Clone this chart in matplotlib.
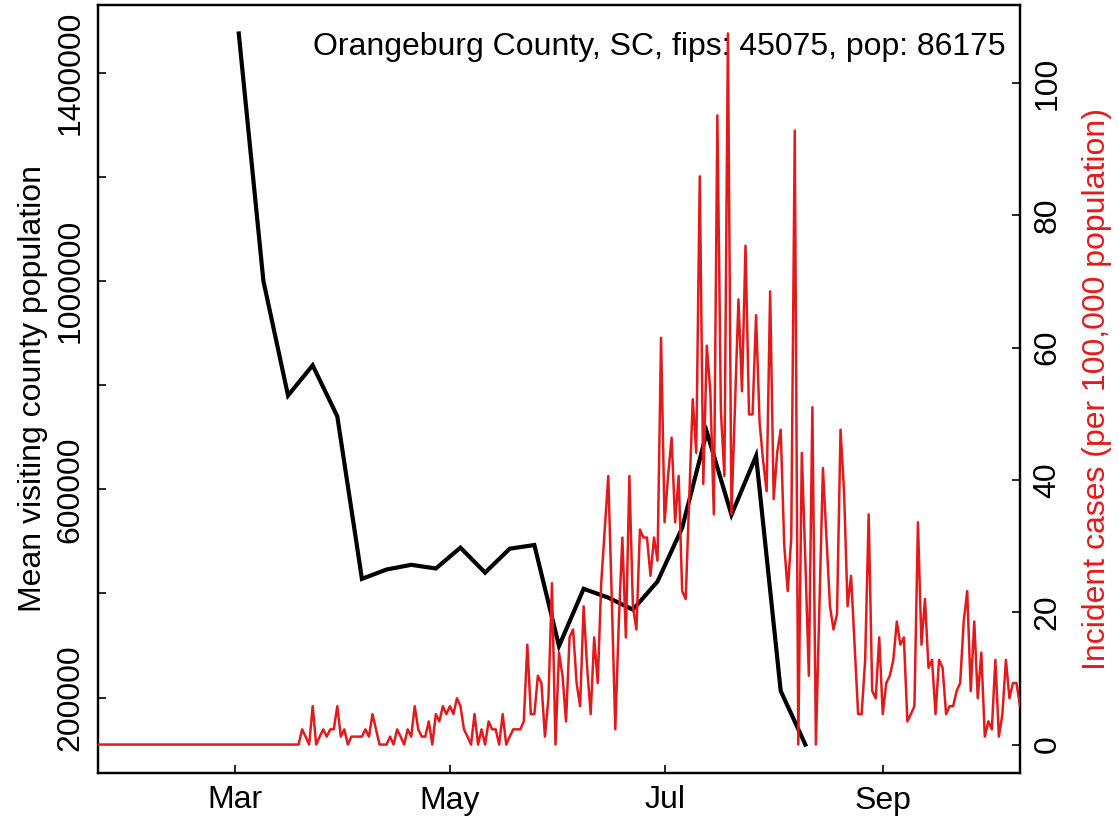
"""
Orangeburg County: mean visiting population vs daily incident cases.
"""
import pandas as pd
import matplotlib
matplotlib.use("Agg")
import matplotlib.pyplot as plt

plt.rcParams['font.family'] = ['Liberation Sans', 'DejaVu Sans']

TITLE = "Orangeburg County, SC, fips: 45075, pop: 86175"
LEFT_LABEL = "Mean visiting county population"
RIGHT_LABEL = "Incident cases (per 100,000 population)"

# weekly mean visiting population (black line), weeks starting 2020-03-02
visit_start = "2020-03-02"
visit_values = [1475000, 1000000, 780000, 838000, 740000, 428000, 446000, 455000,
                448000, 488000, 440000, 486000, 493000, 299000, 409000, 392000,
                369000, 423000, 526000, 710000, 551000, 664000, 213000, 110000]

# daily incident cases per 100k (red line), days starting 2020-01-22
cases_start = "2020-01-22"
cases_values = [
    0, 0, 0, 0, 0, 0, 0, 0, 0, 0, 0, 0, 0, 0, 0, 0, 0, 0, 0, 0,
    0, 0, 0, 0, 0, 0, 0, 0, 0, 0, 0, 0, 0, 0, 0, 0, 0, 0, 0, 0,
    0, 0, 0, 0, 0, 0, 0, 0, 0, 0, 0, 0, 0, 0, 0, 0, 0,
    0, 2.3, 1.2, 0, 5.8, 0, 1.2, 2.3, 1.2, 2.3, 2.3, 5.8, 1.2, 2.3, 0,
    1.2, 1.2, 1.2, 1.2, 2.3, 1.2, 4.6, 2.3, 0, 0, 0, 1.2, 0, 2.3, 1.2,
    0, 2.3, 1.2, 5.8, 2.3, 1.2, 1.2, 3.5, 0, 4.6, 3.5, 5.8, 4.6, 5.8,
    4.6, 7.0, 5.8, 2.3, 1.2, 0, 4.6, 0, 2.3, 0, 3.5, 2.3, 2.3, 0, 4.6,
    0, 1.2, 2.3, 2.3, 2.3, 3.5, 15.1, 4.6, 4.6, 10.4, 9.3, 1.2, 7.0,
    24.4, 0, 13.9, 10.4, 3.5, 16.2, 17.4, 9.3, 5.8, 20.9, 11.6, 4.6,
    16.2, 9.3, 24.4, 32.5, 40.6, 22.0, 2.3, 18.6, 31.3, 16.2, 40.6,
    20.9, 17.4, 32.5, 31.3, 31.3, 25.5, 31.3, 27.8, 61.5, 33.6, 40.6,
    46.4, 33.6, 40.6, 23.2, 22.0, 37.1, 52.2, 44.1, 85.9, 39.4, 60.3,
    53.4, 34.8, 95.1, 50.5, 40.6, 107.5, 34.8, 51.0, 67.3, 53.4, 75.4,
    49.9, 49.9, 64.9, 48.7, 42.9, 38.3, 68.5, 37.1, 44.1, 47.6, 30.2,
    23.2, 31.3, 92.8, 0, 44.1, 27.8, 10.4, 51.0, 0, 20.9, 41.8, 31.3,
    20.9, 17.4, 19.7, 47.6, 38.3, 20.9, 25.5, 15.1, 4.6, 4.6, 12.8,
    34.8, 8.1, 7.0, 16.2, 4.6, 9.3, 10.4, 12.8, 18.6, 15.1, 16.2, 3.5,
    4.6, 5.8, 33.6, 15.1, 22.0, 11.6, 12.8, 4.6, 12.8, 11.6, 4.6, 5.8,
    5.8, 8.1, 9.3, 18.6, 23.2, 8.1, 18.6, 7.0, 13.9, 1.2, 3.5, 2.3,
    12.8, 1.2, 4.6, 12.8, 7.0, 9.3, 9.3, 5.8,
]

month_ticks = ["2020-03-01", "2020-05-01", "2020-07-01", "2020-09-01"]
month_labels = ["Mar", "May", "Jul", "Sep"]

visit_ticks = [200000, 400000, 600000, 800000, 1000000, 1200000, 1400000]
visit_tick_labels = ["200000", "", "600000", "", "1000000", "", "1400000"]
cases_ticks = [0, 20, 40, 60, 80, 100]

FS = 23
RED = '#E31A1C'


def r_limits(values):
    # R style axis range: 4% padding on both ends
    lo, hi = min(values), max(values)
    pad = 0.04 * (hi - lo)
    return lo - pad, hi + pad


visit_dates = pd.date_range(visit_start, periods=len(visit_values), freq='7D')
cases_dates = pd.date_range(cases_start, periods=len(cases_values), freq='D')

W, H = 1119, 817
fig = plt.figure(figsize=(W / 100, H / 100), dpi=100)
left, right, top, bottom = 98, 1020, 5, 773
ax = fig.add_axes([left / W, (H - bottom) / H, (right - left) / W, (bottom - top) / H])

ax.plot(visit_dates, visit_values, color='black', lw=3.0, solid_joinstyle='miter')
ax.set_xlim(cases_dates[0], cases_dates[-1])
ax.set_ylim(*r_limits(visit_values))
ax.set_yticks(visit_ticks)
ax.set_yticklabels(visit_tick_labels, rotation=90, va='center')
ax.set_xticks(pd.to_datetime(month_ticks))
ax.set_xticklabels(month_labels)

ax2 = ax.twinx()
ax2.plot(cases_dates, cases_values, color=RED, lw=1.8, zorder=3)
ax2.set_ylim(*r_limits(cases_values))
ax2.set_yticks(cases_ticks)
ax2.set_yticklabels([str(t) for t in cases_ticks], rotation=90, va='center')
ax2.text(0.984, 0.945, TITLE, transform=ax2.transAxes, ha='right', va='center',
         fontsize=FS, zorder=1)

for a in (ax, ax2):
    a.tick_params(direction='in', length=6, width=1.2, labelsize=FS, pad=9)
    for s in a.spines.values():
        s.set_linewidth(1.6)

fig.text(33 / W, 1 - 389 / H, LEFT_LABEL, rotation=90, ha='center', va='center', fontsize=FS)
fig.text(1097 / W, 1 - 389 / H, RIGHT_LABEL, rotation=90, ha='center', va='center',
         fontsize=FS, color=RED)

fig.savefig("out.png", dpi=100)
plt.close(fig)
